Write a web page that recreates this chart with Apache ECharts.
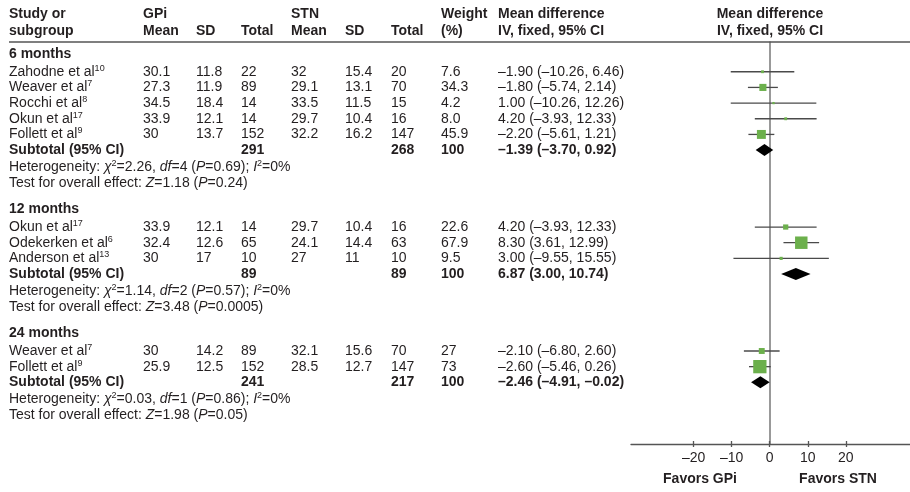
<!DOCTYPE html>
<html>
<head>
<meta charset="utf-8">
<script src="https://cdn.jsdelivr.net/npm/echarts@6/dist/echarts.min.js"></script>
<style>
  html, body { margin: 0; padding: 0; background: #fff; }
  #chart { width: 910px; height: 492px; }
</style>
</head>
<body>
<div id="chart"></div>
<script>
// subgroups and how many studies each one holds
const groups = ['6 months', '12 months', '24 months'];
const groupSize = [5, 3, 2];

// studies, in table order
const studyNames = ['Zahodne et al', 'Weaver et al', 'Rocchi et al', 'Okun et al', 'Follett et al',
  'Okun et al', 'Odekerken et al', 'Anderson et al',
  'Weaver et al', 'Follett et al'];
const studyRefs = ['10', '7', '8', '17', '9', '17', '6', '13', '7', '9'];
const gpiMean = [30.1, 27.3, 34.5, 33.9, 30, 33.9, 32.4, 30, 30, 25.9];
const gpiSD = [11.8, 11.9, 18.4, 12.1, 13.7, 12.1, 12.6, 17, 14.2, 12.5];
const gpiN = [22, 89, 14, 14, 152, 14, 65, 10, 89, 152];
const stnMean = [32, 29.1, 33.5, 29.7, 32.2, 29.7, 24.1, 27, 32.1, 28.5];
const stnSD = [15.4, 13.1, 11.5, 10.4, 16.2, 10.4, 14.4, 11, 15.6, 12.7];
const stnN = [20, 70, 15, 16, 147, 16, 63, 10, 70, 147];
const weights = ['7.6', '34.3', '4.2', '8.0', '45.9', '22.6', '67.9', '9.5', '27', '73'];
const md = [-1.90, -1.80, 1.00, 4.20, -2.20, 4.20, 8.30, 3.00, -2.10, -2.60];
const ciLow = [-10.26, -5.74, -10.26, -3.93, -5.61, -3.93, 3.61, -9.55, -6.80, -5.46];
const ciHigh = [6.46, 2.14, 12.26, 12.33, 1.21, 12.33, 12.99, 15.55, 2.60, 0.26];

// subtotals per subgroup
const subGpiN = [291, 89, 241];
const subStnN = [268, 89, 217];
const subMd = [-1.39, 6.87, -2.46];
const subLow = [-3.70, 3.00, -4.91];
const subHigh = [0.92, 10.74, -0.02];
const chi2 = ['2.26', '1.14', '0.03'];
const dfs = [4, 2, 1];
const chi2P = ['0.69', '0.57', '0.86'];
const i2 = [0, 0, 0];
const zVal = ['1.18', '3.48', '1.98'];
const zP = ['0.24', '0.0005', '0.05'];

const xTicks = [-20, -10, 0, 10, 20];

// layout
const W = 910, H = 492;
const LINE = 15.67;   // px per table row
const TOP = 8.6;      // px of row 0
const FONT = 'Liberation Sans, Arial, sans-serif';
const TXT = '#231f20';
const col = { study: 9, gpiMean: 143, gpiSD: 196, gpiN: 241, stnMean: 291, stnSD: 345, stnN: 391, weight: 441, md: 498 };
const plotTop = 42, plotBottom = 444, plotLeft = 631;
const rowAt = px => (px - TOP) / LINE;

const fmt = v => v.toFixed(2).replace('-', '\u2013');
const ci = (m, l, h) => fmt(m) + ' (' + fmt(l) + ', ' + fmt(h) + ')';

const cells = [];
const add = (x, r, t, bold, align) => cells.push({ x, r, t, bold: !!bold, align: align || 'left' });

// header
[['Study or', 'subgroup', col.study], ['GPi', 'Mean', col.gpiMean], ['', 'SD', col.gpiSD], ['', 'Total', col.gpiN],
 ['STN', 'Mean', col.stnMean], ['', 'SD', col.stnSD], ['', 'Total', col.stnN],
 ['Weight', '(%)', col.weight], ['Mean difference', 'IV, fixed, 95% CI', col.md]].forEach(h => {
  if (h[0]) add(h[2], 0.35, h[0], true);
  add(h[2], 1.45, h[1], true);
});
add(770, 0.35, 'Mean difference', true, 'center');
add(770, 1.45, 'IV, fixed, 95% CI', true, 'center');

const studyData = [], subData = [];
let r = 2.9, k = 0;
groups.forEach((g, gi) => {
  add(col.study, r, g, true);
  r += 1.13;
  for (let j = 0; j < groupSize[gi]; j++, k++) {
    add(col.study, r, studyNames[k] + '{sup|' + studyRefs[k] + '}');
    add(col.gpiMean, r, String(gpiMean[k]));
    add(col.gpiSD, r, String(gpiSD[k]));
    add(col.gpiN, r, String(gpiN[k]));
    add(col.stnMean, r, String(stnMean[k]));
    add(col.stnSD, r, String(stnSD[k]));
    add(col.stnN, r, String(stnN[k]));
    add(col.weight, r, weights[k]);
    add(col.md, r, ci(md[k], ciLow[k], ciHigh[k]));
    studyData.push([ciLow[k], ciHigh[k], md[k], r, parseFloat(weights[k])]);
    r += 1;
  }
  add(col.study, r, 'Subtotal (95% CI)', true);
  add(col.gpiN, r, String(subGpiN[gi]), true);
  add(col.stnN, r, String(subStnN[gi]), true);
  add(col.weight, r, '100', true);
  add(col.md, r, ci(subMd[gi], subLow[gi], subHigh[gi]), true);
  subData.push([subLow[gi], subHigh[gi], subMd[gi], r]);
  r += 1.08;
  add(col.study, r, 'Heterogeneity: {i|\u03c7}{sup|2}=' + chi2[gi] + ', {i|df}=' + dfs[gi] +
    ' ({i|P}=' + chi2P[gi] + '); {i|I}{sup|2}=' + i2[gi] + '%');
  r += 1.04;
  add(col.study, r, 'Test for overall effect: {i|Z}=' + zVal[gi] + ' ({i|P}=' + zP[gi] + ')');
  r += 1.66;
});
add(700, rowAt(479), 'Favors GPi', true, 'center');
add(838, rowAt(479), 'Favors STN', true, 'center');

function rich(bold) {
  const w = bold ? 'bold' : 'normal';
  return {
    sup: { fontFamily: FONT, fontSize: 9, fontWeight: w, fill: TXT, verticalAlign: 'top', lineHeight: 9 },
    i: { fontFamily: FONT, fontSize: 14, fontStyle: 'italic', fontWeight: w, fill: TXT, lineHeight: 16 }
  };
}

const chart = echarts.init(document.getElementById('chart'), null, { renderer: 'canvas' });

const option = {
  animation: false,
  backgroundColor: '#fff',
  grid: [
    { left: 0, right: 0, top: 0, bottom: 0 },
    { left: plotLeft, right: 0, top: plotTop, bottom: H - plotBottom }
  ],
  xAxis: [
    { gridIndex: 0, type: 'value', min: 0, max: W, show: false },
    {
      gridIndex: 1, type: 'value', min: -36.5, max: 36.9, position: 'bottom',
      axisLine: { show: true, onZero: false, lineStyle: { color: '#555', width: 1.3 } },
      axisTick: { show: true, customValues: xTicks, length: 3, lineStyle: { color: '#555', width: 1.3 } },
      axisLabel: {
        customValues: xTicks, margin: 7, fontFamily: FONT, fontSize: 14, color: TXT,
        formatter: v => String(v).replace('-', '\u2013')
      },
      splitLine: { show: false }
    },
    {
      gridIndex: 1, type: 'value', min: -36.5, max: 36.9, position: 'bottom',
      axisLine: { show: false, onZero: false },
      axisTick: { show: true, inside: true, customValues: xTicks, length: 3, lineStyle: { color: '#555', width: 1.3 } },
      axisLabel: { show: false },
      splitLine: { show: false }
    }
  ],
  yAxis: [
    { gridIndex: 0, type: 'value', inverse: true, min: rowAt(0), max: rowAt(H), show: false },
    {
      gridIndex: 1, type: 'value', inverse: true, min: rowAt(plotTop), max: rowAt(plotBottom),
      axisLine: { show: true, onZero: true, lineStyle: { color: '#777', width: 1.5 } },
      axisTick: { show: false }, axisLabel: { show: false }, splitLine: { show: false }
    }
  ],
  graphic: [{
    type: 'line', shape: { x1: col.study, y1: plotTop, x2: W, y2: plotTop },
    style: { stroke: '#555', lineWidth: 1.5 }, z: 10
  }],
  series: [
    {
      type: 'custom', xAxisIndex: 0, yAxisIndex: 0, clip: false,
      data: cells.map(c => [c.x, c.r]),
      renderItem(params, api) {
        const c = cells[params.dataIndex];
        const p = api.coord([c.x, c.r]);
        return {
          type: 'text', x: p[0], y: p[1],
          style: {
            text: c.t, fill: TXT, fontFamily: FONT, fontSize: 14,
            fontWeight: c.bold ? 'bold' : 'normal', lineHeight: 16,
            align: c.align, verticalAlign: 'middle', rich: rich(c.bold)
          }
        };
      }
    },
    {
      type: 'custom', xAxisIndex: 1, yAxisIndex: 1, clip: false,
      encode: { x: [0, 1, 2], y: 3 },
      data: studyData,
      renderItem(params, api) {
        const y = api.value(3);
        const lo = api.coord([api.value(0), y]);
        const hi = api.coord([api.value(1), y]);
        const c = api.coord([api.value(2), y]);
        const s = 1.6 + 0.16 * api.value(4);
        return {
          type: 'group', children: [
            { type: 'line', shape: { x1: lo[0], y1: lo[1], x2: hi[0], y2: hi[1] }, style: { stroke: '#4a4a4a', lineWidth: 1.3 } },
            { type: 'rect', shape: { x: c[0] - s / 2, y: c[1] - s / 2, width: s, height: s }, style: { fill: '#6cb04c' } }
          ]
        };
      }
    },
    {
      type: 'custom', xAxisIndex: 1, yAxisIndex: 1, clip: false,
      encode: { x: [0, 1, 2], y: 3 },
      data: subData,
      renderItem(params, api) {
        const y = api.value(3);
        const lo = api.coord([api.value(0), y]);
        const hi = api.coord([api.value(1), y]);
        const c = api.coord([api.value(2), y]);
        const h = 6;
        return {
          type: 'polygon',
          shape: { points: [[lo[0], lo[1]], [c[0], c[1] - h], [hi[0], hi[1]], [c[0], c[1] + h]] },
          style: { fill: '#000' }
        };
      }
    }
  ]
};

chart.setOption(option);
window.addEventListener('resize', () => chart.resize());
</script>
</body>
</html>
